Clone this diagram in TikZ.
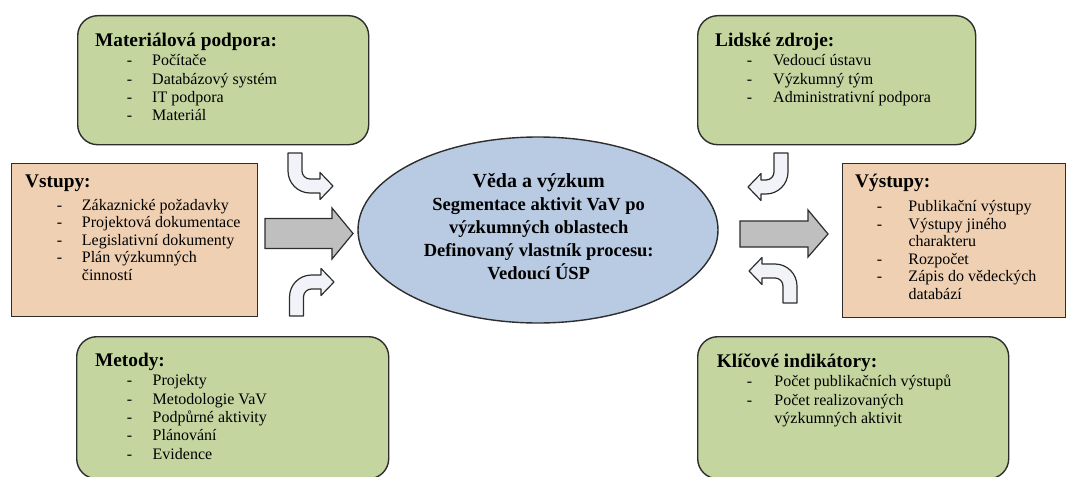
\documentclass[tikz,border=0pt]{standalone}
\usepackage{fontspec}
\setmainfont{Liberation Serif}
\usetikzlibrary{shapes.geometric}

\definecolor{boxgreen}{RGB}{196,213,160}
\definecolor{boxtan}{RGB}{239,208,178}
\definecolor{ovalblue}{RGB}{185,203,226}
\definecolor{arrowgray}{RGB}{191,191,191}
\definecolor{arrowpale}{RGB}{241,243,248}
\definecolor{edgegray}{RGB}{45,45,45}

% list layout inside the boxes
\newlength\dashoff
\newlength\textoff
\newcommand\heading[1]{\hbox{\fontsize{19.3}{19.3}\selectfont\bfseries #1}}
\newcommand\entry[1]{\hbox{\makebox[\textoff][l]{\hspace*{\dashoff}-}#1}}
\newcommand\cont[1]{\hbox{\hspace*{\textoff}#1}}
\newcommand\midline[1]{\hbox to 0pt{\hss #1\hss}}

% bent block arrow: stem runs down from the origin, turns right;
% #1 = drop to the shaft axis, #2 = x of the head base
\newcommand\bentarrow[2]{%
  \draw[bentstyle] (-7,0) -- (-7,{#1-15})
    .. controls (-7,{#1-2.86}) and (2.86,{#1+7}) .. (15,{#1+7})
    -- (#2,{#1+7}) -- (#2,{#1+13.5}) -- ({#2+13},#1) -- (#2,{#1-13.5})
    -- (#2,{#1-7}) -- (15,{#1-7})
    .. controls (10.58,{#1-7}) and (7,{#1-10.58}) .. (7,{#1-15})
    -- (7,0) -- cycle;}

\begin{document}
\begin{tikzpicture}[x=1pt,y=-1pt,
  gbox/.style={draw=edgegray, line width=1.4pt, fill=boxgreen, rounded corners=20pt,
               anchor=north west, inner sep=0pt},
  tbox/.style={draw=edgegray, line width=1.4pt, fill=boxtan, anchor=north west, inner sep=0pt},
  oval/.style={ellipse, draw=edgegray, line width=1.4pt, fill=ovalblue, inner sep=0pt,
               minimum width=360pt, minimum height=186pt},
  listtext/.style={anchor=base west, inner sep=0pt, font=\fontsize{16}{18.4}\selectfont},
  bentstyle/.style={fill=arrowpale, draw=edgegray, line width=1.2pt, line join=round},
  bigarrow/.style={fill=arrowgray, draw=edgegray, line width=1.2pt, line join=miter}]

\useasboundingbox (0,0) rectangle (1075,476);

% boxes
\node[gbox, minimum width=291pt, minimum height=129pt] (mat) at (77,15) {};
\node[gbox, minimum width=278pt, minimum height=129pt] (lid) at (697,15) {};
\node[gbox, minimum width=312pt, minimum height=142pt] (met) at (76,336) {};
\node[gbox, minimum width=311pt, minimum height=142pt] (kli) at (697,336) {};
\node[tbox, minimum width=246pt, minimum height=153pt] (vst) at (11,163) {};
\node[tbox, minimum width=223pt, minimum height=154pt] (vys) at (842,163) {};
\node[oval] (veda) at (538,230) {};

% box contents
\node[listtext] (mattext) at (95,46.7) {\vtop{%
  \setlength\dashoff{31.7pt}\setlength\textoff{57pt}%
  \heading{Materiálová podpora:}\vskip0.6pt
  \entry{Počítače}\entry{Databázový systém}\entry{IT podpora}\entry{Materiál}}};

\node[listtext] (lidtext) at (715,46.7) {\vtop{%
  \setlength\dashoff{31.7pt}\setlength\textoff{58pt}%
  \heading{Lidské zdroje:}\vskip0.6pt
  \entry{Vedoucí ústavu}\entry{Výzkumný tým}\entry{Administrativní podpora}}};

\node[listtext] (mettext) at (95,366.7) {\vtop{%
  \setlength\dashoff{31.7pt}\setlength\textoff{57.5pt}%
  \heading{Metody:}\vskip0.6pt
  \entry{Projekty}\entry{Metodologie VaV}\entry{Podpůrné aktivity}\entry{Plánování}\entry{Evidence}}};

\node[listtext] (klitext) at (716.7,367.7) {\vtop{%
  \setlength\dashoff{30pt}\setlength\textoff{57.5pt}%
  \heading{Klíčové indikátory:}\vskip0.6pt
  \entry{Počet publikačních výstupů}\entry{Počet realizovaných}\cont{výzkumných aktivit}}};

\node[listtext, font=\fontsize{16}{17.5}\selectfont] (vsttext) at (25,187) {\vtop{%
  \setlength\dashoff{31.7pt}\setlength\textoff{56.7pt}%
  \heading{Vstupy:}\vskip5.5pt
  \entry{Zákaznické požadavky}\entry{Projektová dokumentace}\entry{Legislativní dokumenty}%
  \entry{Plán výzkumných}\cont{činností}}};

\node[listtext, font=\fontsize{16}{17.5}\selectfont] (vystext) at (855,187.5) {\vtop{%
  \setlength\dashoff{21.7pt}\setlength\textoff{53.3pt}%
  \heading{Výstupy:}\vskip6.5pt
  \entry{Publikační výstupy}\entry{Výstupy jiného}\cont{charakteru}\entry{Rozpočet}%
  \entry{Zápis do vědeckých}\cont{databází}}};

% process description in the oval
\node[anchor=base west, inner sep=0pt, font=\bfseries] (vedatext) at (538,187) {\vtop{%
  \baselineskip=23pt
  \midline{\fontsize{20}{23}\selectfont Věda a výzkum}
  \midline{\fontsize{18.5}{23}\selectfont Segmentace aktivit VaV po}
  \midline{\fontsize{18.5}{23}\selectfont výzkumných oblastech}
  \midline{\fontsize{18.5}{23}\selectfont Definovaný vlastník procesu:}
  \midline{\fontsize{18.5}{23}\selectfont Vedoucí ÚSP}}};

% input and output arrows
\draw[bigarrow] (265,218.5) -- (332,218.5) -- (332,208) -- (353,233.5) -- (332,259)
  -- (332,248.5) -- (265,248.5) -- cycle;
\draw[bigarrow] (740,221) -- (808,221) -- (808,210) -- (828,234) -- (808,257)
  -- (808,247) -- (740,247) -- cycle;

% resource arrows bending towards the process
\begin{scope}[shift={(295,153)}]
  \bentarrow{33}{25}
\end{scope}
\begin{scope}[shift={(781,153)}, xscale=-1]
  \bentarrow{34}{20}
\end{scope}
\begin{scope}[shift={(296.5,316)}, yscale=-1]
  \bentarrow{34}{24.5}
\end{scope}
\begin{scope}[shift={(790,303)}, xscale=-1, yscale=-1]
  \bentarrow{32}{28}
\end{scope}

\end{tikzpicture}
\end{document}
